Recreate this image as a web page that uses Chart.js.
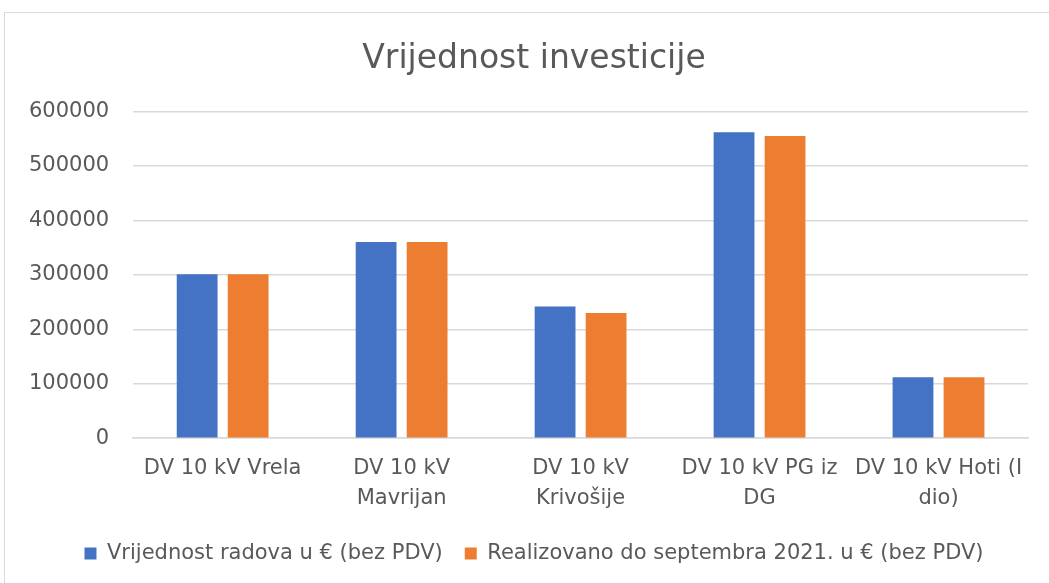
<!DOCTYPE html>
<html>
<head>
<meta charset="utf-8">
<script src="https://cdn.jsdelivr.net/npm/chart.js@4/dist/chart.umd.min.js"></script>
<style>
  html, body { margin: 0; background: #fff; overflow: hidden; }
  #wrap {
    position: absolute; left: 4px; top: 12px;
    width: 1074px; height: 580px;
    border: 1px solid #d9d9d9; border-bottom: none;
    box-sizing: border-box;
  }
  #chart { display: block; }
</style>
</head>
<body>
<div id="wrap"><canvas id="chart" width="1072" height="571"></canvas></div>
<script>
// categories and series
const categories = [
    ['DV 10 kV Vrela'],
    ['DV 10 kV', 'Mavrijan'],
    ['DV 10 kV', 'Krivošije'],
    ['DV 10 kV PG iz', 'DG'],
    ['DV 10 kV Hoti (I', 'dio)']
];
const vrijednostRadova = [301000, 360500, 242000, 562000, 112000];
const realizovano = [301000, 360500, 230000, 555000, 112000];
const seriesNames = [
    'Vrijednost radova u € (bez PDV)',
    'Realizovano do septembra 2021. u € (bez PDV)'
];

const textColor = '#595959';
const fontFamily = "'DejaVu Sans', sans-serif";

const ctx = document.getElementById('chart');
new Chart(ctx, {
    type: 'bar',
    data: {
        labels: categories,
        datasets: [{
            label: seriesNames[0],
            data: vrijednostRadova,
            backgroundColor: '#4472c4'
        }, {
            label: seriesNames[1],
            data: realizovano,
            backgroundColor: '#ed7d31'
        }]
    },
    options: {
        responsive: false,
        animation: false,
        layout: {
            padding: { left: 0, right: 14, top: 0, bottom: 10 }
        },
        datasets: {
            bar: {
                categoryPercentage: 0.57,
                barPercentage: 0.8
            }
        },
        scales: {
            x: {
                grid: { display: false },
                border: { display: true, color: '#d9d9d9', width: 1.5 },
                ticks: {
                    color: textColor,
                    font: { family: fontFamily, size: 21, lineHeight: 1.4 },
                    maxRotation: 0,
                    autoSkip: false,
                    padding: 8
                }
            },
            y: {
                min: 0,
                max: 600000,
                grid: { color: '#d9d9d9', lineWidth: 1.5, drawTicks: false },
                border: { display: false },
                ticks: {
                    stepSize: 100000,
                    color: textColor,
                    font: { family: fontFamily, size: 21 },
                    padding: 24,
                    callback: function(value) {
                        return String(value);
                    }
                }
            },
            // empty right axis, only keeps space on the right of the plot
            yRight: {
                position: 'right',
                min: 0,
                max: 600000,
                grid: { display: false },
                border: { display: false },
                ticks: { display: false },
                afterFit: function(scale) {
                    scale.width = 35;
                }
            }
        },
        plugins: {
            title: {
                display: true,
                text: 'Vrijednost investicije',
                color: textColor,
                font: { family: fontFamily, size: 33, weight: 'normal' },
                padding: { top: 27, bottom: 32 }
            },
            legend: {
                position: 'bottom',
                labels: {
                    color: textColor,
                    font: { family: fontFamily, size: 21 },
                    boxWidth: 12,
                    boxHeight: 12,
                    padding: 22
                }
            },
            tooltip: { enabled: false }
        }
    }
});
</script>
</body>
</html>
